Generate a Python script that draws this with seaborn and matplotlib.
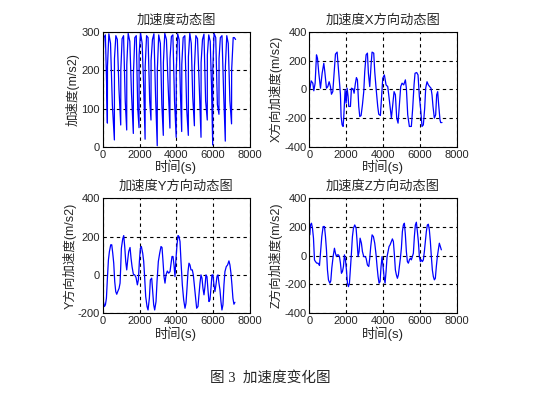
import numpy as np
import seaborn as sns
import matplotlib.pyplot as plt

sns.set_style("white")
plt.rcParams['font.family'] = ['Liberation Sans', 'Noto Sans CJK SC', 'DejaVu Sans']
plt.rcParams['axes.unicode_minus'] = False

# 加速度 (总)
acc_t = [0, 5, 60, 140, 200,
         250, 255, 330, 420, 520,
         630, 635, 710, 790, 880,
         975, 980, 1050, 1130, 1220,
         1300, 1305, 1380, 1470, 1560,
         1660, 1665, 1740, 1820, 1900,
         1970, 1975, 2050, 2140, 2220,
         2300, 2305, 2380, 2460, 2550,
         2620, 2625, 2700, 2780, 2870,
         2960, 2965, 3040, 3130, 3210,
         3290, 3295, 3370, 3460, 3560,
         3650, 3655, 3730, 3810, 3900,
         3990, 3995, 4070, 4150, 4220,
         4290, 4295, 4370, 4460, 4560,
         4650, 4655, 4730, 4810, 4890,
         4980, 4985, 5060, 5150, 5250,
         5340, 5345, 5420, 5500, 5590,
         5680, 5685, 5760, 5840, 5910,
         5975, 5980, 6050, 6140, 6230,
         6315, 6320, 6390, 6480, 6570,
         6660, 6665, 6740, 6820, 6910,
         7000, 7005, 7090, 7150, 7220]
acc_v = [0, 220, 285, 292, 180,
         62, 210, 295, 270, 110,
         18, 230, 290, 280, 150,
         57, 200, 282, 290, 120,
         44, 215, 296, 275, 140,
         35, 190, 285, 290, 100,
         50, 240, 298, 270, 160,
         20, 210, 290, 285, 120,
         70, 225, 280, 295, 130,
         3, 200, 292, 270, 110,
         30, 220, 296, 280, 150,
         49, 230, 288, 292, 120,
         25, 200, 295, 280, 140,
         40, 215, 285, 290, 100,
         30, 235, 296, 270, 130,
         55, 210, 290, 282, 150,
         25, 220, 280, 294, 120,
         70, 240, 292, 275, 160,
         5, 200, 296, 285, 110,
         85, 230, 285, 290, 140,
         15, 210, 290, 270, 120,
         60, 200, 285, 285, 280]

# X方向
x_t = [20, 92, 183, 237, 309, 382, 436, 508, 599, 690, 780, 834, 925, 997, 1070, 1142,
       1196, 1269, 1359, 1414, 1504, 1558, 1631, 1685, 1721, 1775, 1830, 1866, 1938, 1993,
       2047, 2101, 2137, 2228, 2282, 2373, 2427, 2499, 2553, 2608, 2680, 2735, 2807, 2880,
       2952, 3006, 3079, 3151, 3205, 3278, 3350, 3404, 3495, 3549, 3622, 3712, 3767, 3857,
       3929, 3984, 4074, 4165, 4256, 4310, 4382, 4455, 4527, 4600, 4672, 4744, 4817, 4889,
       4961, 5034, 5124, 5215, 5269, 5342, 5432, 5540, 5613, 5686, 5740, 5830, 5903, 5975,
       6048, 6120, 6192, 6265, 6319, 6392, 6464, 6536, 6609, 6663, 6717, 6790, 6862, 6916,
       6971, 7025, 7097, 7134, 7206]
x_v = [-3, 59, 43, -10, 43, 240, 217, 112, 8, 112, 181, 123, 8, 19, 53, 19,
       -34, -16, 146, 245, 259, 170, 53, -38, -189, -247, -258, -189, -3, -96,
       8, -50, -119, -119, 8, 3, -27, 43, 82, 66, -119, -189, -182, -108,
       -16, 123, 240, 252, 112, 19, 170, 259, 252, 123, 8, -119, -173, -182,
       -38, 77, 100, 31, 19, -38, -119, -200, -108, -16, -38, -200, -235, -108,
       19, 43, 31, 66, 8, -177, -258, -258, -131, 31, 112, 117, 100, -50,
       -143, -258, -247, -131, 8, 53, 31, 19, 8, -38, -119, -200, -177, -38,
       -16, -108, -212, -231, -231]

# Y方向
y_t = [0, 34, 88, 143, 197, 251, 306, 360, 432, 487, 541, 595, 649, 704, 758, 812, 885,
       939, 975, 1011, 1084, 1138, 1192, 1247, 1301, 1355, 1409, 1482, 1536, 1591, 1663,
       1735, 1808, 1880, 1935, 1989, 2043, 2097, 2170, 2224, 2278, 2333, 2405, 2459, 2532,
       2586, 2659, 2713, 2767, 2821, 2894, 2948, 3020, 3093, 3165, 3220, 3274, 3328, 3382,
       3437, 3509, 3582, 3654, 3726, 3763, 3817, 3871, 3925, 3980, 4035, 4089, 4143, 4198,
       4252, 4324, 4397, 4469, 4523, 4578, 4632, 4686, 4740, 4795, 4867, 4921, 4976, 5048,
       5103, 5175, 5229, 5284, 5338, 5392, 5446, 5501, 5555, 5609, 5664, 5718, 5772, 5826,
       5881, 5935, 5989, 6044, 6098, 6152, 6207, 6261, 6315, 6370, 6424, 6478, 6532, 6587,
       6641, 6713, 6786, 6858, 6912, 6967, 7021, 7075, 7130, 7184]
y_v = [-38, -139, -165, -156, -122, -17, 78, 122, 157, 157, 113, 61, -35, -87, -101, -87, -70,
       -43, 43, 139, 188, 205, 148, 70, 26, 78, 122, 143, 87, 43, 3,
       0, -14, -52, -26, 70, 139, 148, 113, 70, -17, -113, -165, -183, -122,
       -26, -17, -87, -156, -183, -139, -35, 70, 113, 148, 143, 70, -9, -43,
       0, 20, 9, 17, 70, 96, 96, 52, -9, 87, 157, 205, 200, 174,
       70, -52, -130, -174, -148, -70, 17, 61, 52, 26, 26, 0, -52, -122,
       -174, -165, -104, -43, 0, -17, -70, -104, -61, 0, -9, -78, -139, -130,
       -70, 0, 0, -52, -87, -52, -9, 0, -43, -78, -139, -183, -156, -52,
       17, 43, 52, 73, 52, 9, -52, -122, -153, -143]

# Z方向
z_t = [20, 56, 110, 165, 219, 273, 328, 400, 472, 545, 599, 671, 744, 816, 871, 925,
       979, 1033, 1106, 1160, 1214, 1287, 1359, 1414, 1468, 1522, 1576, 1631, 1685, 1739,
       1794, 1848, 1902, 1957, 2011, 2065, 2119, 2174, 2228, 2282, 2336, 2391, 2463, 2536,
       2590, 2644, 2699, 2753, 2825, 2880, 2952, 3024, 3079, 3151, 3224, 3278, 3332, 3405,
       3477, 3549, 3622, 3676, 3731, 3785, 3839, 3893, 3947, 4002, 4056, 4110, 4165, 4220,
       4274, 4328, 4382, 4455, 4509, 4563, 4618, 4672, 4726, 4781, 4835, 4889, 4944, 4998,
       5052, 5106, 5161, 5215, 5269, 5324, 5378, 5432, 5487, 5541, 5595, 5649, 5704, 5758,
       5812, 5867, 5921, 5975, 6030, 6084, 6138, 6192, 6247, 6301, 6355, 6410, 6464, 6518,
       6573, 6627, 6681, 6735, 6790, 6844, 6898, 6953, 7007, 7061, 7116, 7170]
z_v = [145, 214, 226, 191, 122, -29, -41, -52, -52, -68, 17, 133, 203, 203, 133, 40,
       -99, -168, -191, -175, -87, -6, 52, 17, -6, 6, 6, -6, -52, -122,
       -110, -75, 6, -29, -99, -191, -215, -191, -87, 17, 133, 191, 214, 191,
       98, -6, 29, 122, 87, 29, -6, -6, -17, -64, -75, -17, 64, 145,
       133, 87, 6, -75, -145, -191, -180, -75, -6, -75, -145, -191, -110, -6,
       29, 64, 75, 99, 117, 99, 6, -99, -133, -157, -133, -75, -17, 52,
       168, 214, 226, 145, 29, -41, -52, -29, -17, -29, -6, 17, 133, 214,
       233, 168, 99, -6, -41, -29, -41, -29, 29, 99, 168, 214, 219, 180,
       99, -6, -99, -145, -168, -157, -75, -6, 41, 87, 64, 41]

panels = [
    (acc_t, acc_v, "加速度动态图", "加速度(m/s2)", [0, 100, 200, 300], (0, 300)),
    (x_t, x_v, "加速度X方向动态图", "X方向加速度(m/s2)", [-400, -200, 0, 200, 400], (-400, 400)),
    (y_t, y_v, "加速度Y方向动态图", "Y方向加速度(m/s2)", [-200, 0, 200, 400], (-200, 400)),
    (z_t, z_v, "加速度Z方向动态图", "Z方向加速度(m/s2)", [-400, -200, 0, 200, 400], (-400, 400)),
]
xticks = [0, 2000, 4000, 6000, 8000]

fig = plt.figure(figsize=(5.41, 3.98), dpi=100)
positions = [[0.190, 0.631, 0.272, 0.289],
             [0.572, 0.631, 0.272, 0.289],
             [0.190, 0.213, 0.272, 0.289],
             [0.572, 0.213, 0.272, 0.289]]

for pos, (t, v, title, ylabel, yticks, ylim) in zip(positions, panels):
    ax = fig.add_axes(pos)
    sns.lineplot(x=t, y=v, ax=ax, color="#0000ff", linewidth=0.9,
                 estimator=None, sort=False)
    ax.set_xlim(0, 8000)
    ax.set_ylim(*ylim)
    ax.set_xticks(xticks)
    ax.set_yticks(yticks)
    ax.tick_params(direction="in", length=3, labelsize=8, pad=2)
    ax.grid(True, color="black", linestyle=(0, (3, 3)), linewidth=0.8)
    for s in ax.spines.values():
        s.set_color("black")
        s.set_linewidth(0.8)
    ax.set_title(title, fontsize=9.5, pad=6)
    ax.set_xlabel("时间(s)", fontsize=9.5, labelpad=0)
    ax.set_ylabel(ylabel, fontsize=9, labelpad=1)

fig.text(0.5, 0.05, "图 3  加速度变化图", ha="center", va="center", fontsize=10.5,
         family=["Liberation Serif", "Noto Sans CJK SC"])

plt.savefig("out.png", dpi=100)
